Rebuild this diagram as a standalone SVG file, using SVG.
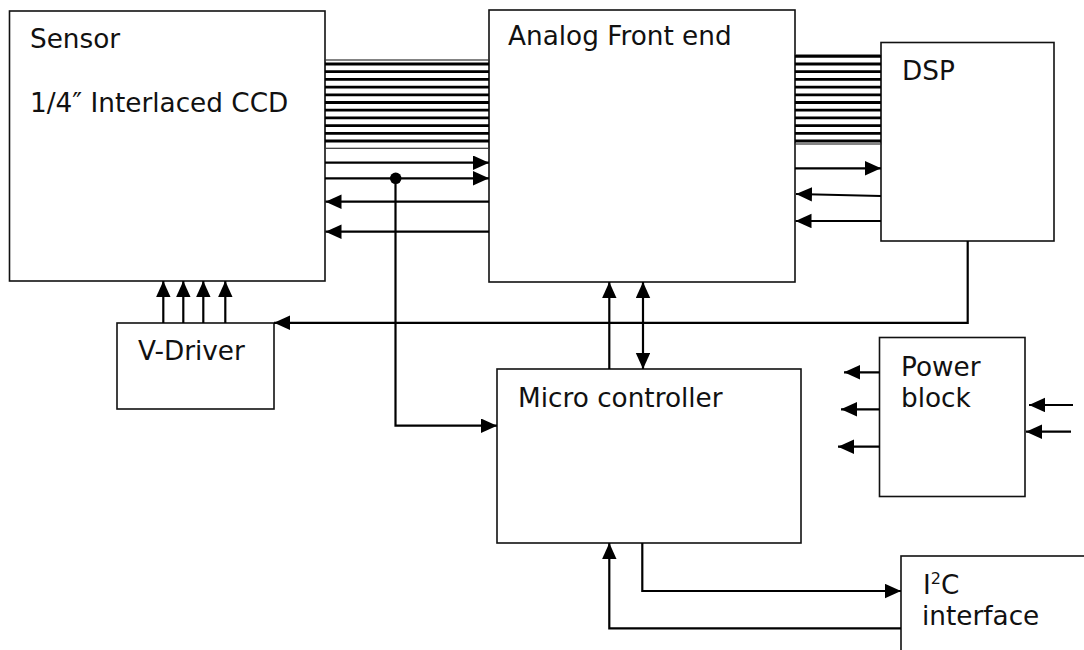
<svg xmlns="http://www.w3.org/2000/svg" width="1084" height="650" viewBox="0 0 1084 650">
<style>
.box{fill:#fff;stroke:#111;stroke-width:1.6}
.lbl{font-family:"DejaVu Sans","Verdana",sans-serif;font-size:26.3px;fill:#111}
.w{fill:none;stroke:#000;stroke-width:2.2}
.bus{fill:none;stroke:#000;stroke-width:2.8}
.busb{fill:none;stroke:#333;stroke-width:1.2}
.a{marker-end:url(#ah)}
</style>
<defs>
<marker id="ah" markerUnits="userSpaceOnUse" markerWidth="17" markerHeight="15" refX="16" refY="7.2" orient="auto">
<path d="M0,0 L16,7.2 L0,14.4 Z" fill="#000"/>
</marker>
<marker id="ahs" markerUnits="userSpaceOnUse" markerWidth="17" markerHeight="15" refX="16" refY="7.2" orient="auto-start-reverse">
<path d="M0,0 L16,7.2 L0,14.4 Z" fill="#000"/>
</marker>
</defs>
<rect width="1084" height="650" fill="#fff"/>

<g id="sensor">
<rect class="box" x="9.5" y="11" width="315.5" height="270"/>
<text class="lbl" x="30" y="48">Sensor</text>
<text class="lbl" x="30" y="112">1/4″ Interlaced CCD</text>
</g>
<g id="afe">
<rect class="box" x="489" y="10" width="306" height="272"/>
<text class="lbl" x="508" y="45">Analog Front end</text>
</g>
<g id="dsp">
<rect class="box" x="881" y="42.5" width="173" height="198.5"/>
<text class="lbl" x="902" y="80">DSP</text>
</g>
<g id="vdriver">
<rect class="box" x="117" y="323" width="157" height="86"/>
<text class="lbl" x="138" y="360">V-Driver</text>
</g>
<g id="micro">
<rect class="box" x="497" y="369" width="304" height="174"/>
<text class="lbl" x="518" y="407">Micro controller</text>
</g>
<g id="power">
<rect class="box" x="879.5" y="337.5" width="145.5" height="159"/>
<text class="lbl" x="901" y="376">Power</text>
<text class="lbl" x="901" y="407">block</text>
</g>
<g id="i2c">
<rect class="box" x="901" y="556" width="200" height="110"/>
<text class="lbl" x="923" y="594">I<tspan dy="-10" font-size="16">2</tspan><tspan dy="10">C</tspan></text>
<text class="lbl" x="922" y="625">interface</text>
</g>

<g id="connectors">
<rect class="busb" x="325" y="60" width="164" height="88.3"/>
<path class="bus" d="M325,64H489M325,71.7H489M325,79.4H489M325,87.1H489M325,94.8H489M325,102.5H489M325,110.2H489M325,117.9H489M325,125.6H489M325,133.3H489M325,141H489"/>
<rect class="busb" x="795" y="55" width="86" height="89"/>
<path class="bus" d="M795,56.3H881M795,64H881M795,71.7H881M795,79.4H881M795,87.1H881M795,94.8H881M795,102.5H881M795,110.2H881M795,117.9H881M795,125.6H881M795,133.3H881M795,141H881"/>
<path class="w a" d="M325,162.7H489"/>
<path class="w a" d="M325,178.3H489"/>
<path class="w a" d="M489,201.7H325.5"/>
<path class="w a" d="M489,231.7H325.5"/>
<circle cx="395.7" cy="178.3" r="5.8" fill="#000"/>
<path class="w a" d="M395.5,178.3V425.7H497"/>
<path class="w a" d="M795,168.3H881"/>
<path class="w a" d="M881,196L796,194"/>
<path class="w a" d="M881,221H795.5"/>
<path class="w a" d="M967.7,241V322.8H274"/>
<path class="w a" d="M163.3,323V281"/>
<path class="w a" d="M183.3,323V281"/>
<path class="w a" d="M203.3,323V281"/>
<path class="w a" d="M225.3,323V281"/>
<path class="w a" d="M609.3,369V282"/>
<path class="w" marker-start="url(#ahs)" marker-end="url(#ahs)" d="M643,282V369"/>
<path class="w a" d="M642.3,543V591H901"/>
<path class="w a" d="M901,628.3H609.3V543"/>
<path class="w a" d="M879.5,372.3H844"/>
<path class="w a" d="M879.5,409.3H841"/>
<path class="w a" d="M879.5,446.7H838"/>
<path class="w a" d="M1073,405H1029"/>
<path class="w a" d="M1071,431.7H1026"/>
</g>
</svg>
